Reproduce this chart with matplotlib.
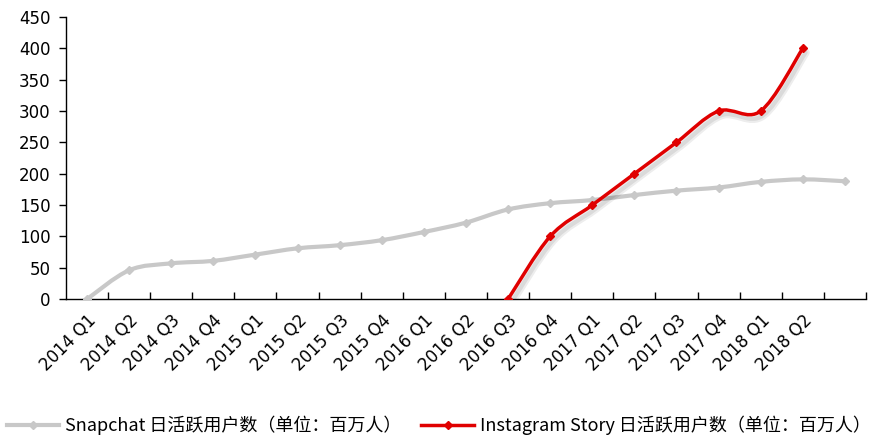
import numpy as np
import matplotlib
matplotlib.use('Agg')
import matplotlib.pyplot as plt
from matplotlib.path import Path
from matplotlib.patches import PathPatch
from matplotlib.lines import Line2D
import matplotlib.patheffects as pe

# ---------------------------------------------------------------- data
quarters = ['2014 Q1', '2014 Q2', '2014 Q3', '2014 Q4',
            '2015 Q1', '2015 Q2', '2015 Q3', '2015 Q4',
            '2016 Q1', '2016 Q2', '2016 Q3', '2016 Q4',
            '2017 Q1', '2017 Q2', '2017 Q3', '2017 Q4',
            '2018 Q1', '2018 Q2', '']
snapchat = [0, 46, 57, 61, 71, 81, 86, 94, 107, 122, 143,
            153, 158, 166, 173, 178, 187, 191, 188]
insta_start = 10
instagram = [0, 100, 150, 200, 250, 300, 300, 400]
yticks = list(range(0, 451, 50))

snap_label = 'Snapchat 日活跃用户数（单位：百万人）'
insta_label = 'Instagram Story 日活跃用户数（单位：百万人）'

GRAY = '#c8c8c8'
RED = '#e00000'


def smooth_path(x, y):
    """Bezier path through the points, like a spreadsheet 'smoothed line'."""
    pts = np.column_stack([x, y]).astype(float)
    n = len(pts)
    verts = [pts[0]]
    codes = [Path.MOVETO]
    for i in range(n - 1):
        p0 = pts[max(i - 1, 0)]
        p1 = pts[i]
        p2 = pts[i + 1]
        p3 = pts[min(i + 2, n - 1)]
        c1 = p1 + (p2 - p0) / 6.0
        c2 = p2 - (p3 - p1) / 6.0
        verts += [c1, c2, p2]
        codes += [Path.CURVE4] * 3
    return Path(verts, codes)


fig = plt.figure(figsize=(8.82, 4.36), dpi=100)
ax = fig.add_axes([0.0748, 0.314, 0.907, 0.647])

xs = np.arange(len(snapchat))
xi = np.arange(insta_start, insta_start + len(instagram))

ax.add_patch(PathPatch(smooth_path(xs, snapchat), facecolor='none',
                       edgecolor=GRAY, lw=3, capstyle='round', zorder=2))
ax.plot(xs, snapchat, ls='none', marker='D', ms=4, color=GRAY, zorder=3)

red_patch = PathPatch(smooth_path(xi, instagram), facecolor='none',
                      edgecolor=RED, lw=2.5, capstyle='round', zorder=4)
red_patch.set_path_effects([pe.SimpleLineShadow(offset=(2, -3), shadow_color='black',
                                                alpha=0.07, linewidth=6),
                            pe.SimpleLineShadow(offset=(2, -3), shadow_color='black',
                                                alpha=0.08, linewidth=3),
                            pe.Normal()])
ax.add_patch(red_patch)
ax.plot(xi, instagram, ls='none', marker='D', ms=4.5, color=RED, zorder=5)

ax.set_xlim(-0.5, len(quarters) - 0.5)
ax.set_ylim(0, 450)
ax.set_yticks(yticks)

ax.set_xticks(xs)
ax.set_xticklabels(quarters, rotation=45, ha='right', va='top',
                   rotation_mode='anchor', family='DejaVu Sans', size=12)
ax.set_xticks(np.arange(0.5, len(quarters) - 0.4, 1), minor=True)
ax.tick_params(axis='x', which='major', length=0, pad=9)
ax.tick_params(axis='x', which='minor', length=5, direction='in', width=1)
ax.tick_params(axis='y', length=5, direction='out', width=1, pad=6)
ax.set_yticklabels([str(v) for v in yticks], family='DejaVu Sans', size=12)

for s in ['top', 'right']:
    ax.spines[s].set_visible(False)
ax.spines['left'].set_linewidth(1)
ax.spines['bottom'].set_linewidth(1)

handles = [Line2D([], [], color=GRAY, lw=3, marker='D', ms=4),
           Line2D([], [], color=RED, lw=2.5, marker='D', ms=4.5)]
fig.legend(handles, [snap_label, insta_label], loc='center left', ncol=2,
           bbox_to_anchor=(0.008, 0.024), frameon=False, borderpad=0,
           borderaxespad=0, handlelength=2.9, handletextpad=0.32,
           columnspacing=1.1,
           prop={'family': ['Noto Sans CJK SC', 'DejaVu Sans'], 'size': 13})

fig.savefig('out.png', dpi=100)
